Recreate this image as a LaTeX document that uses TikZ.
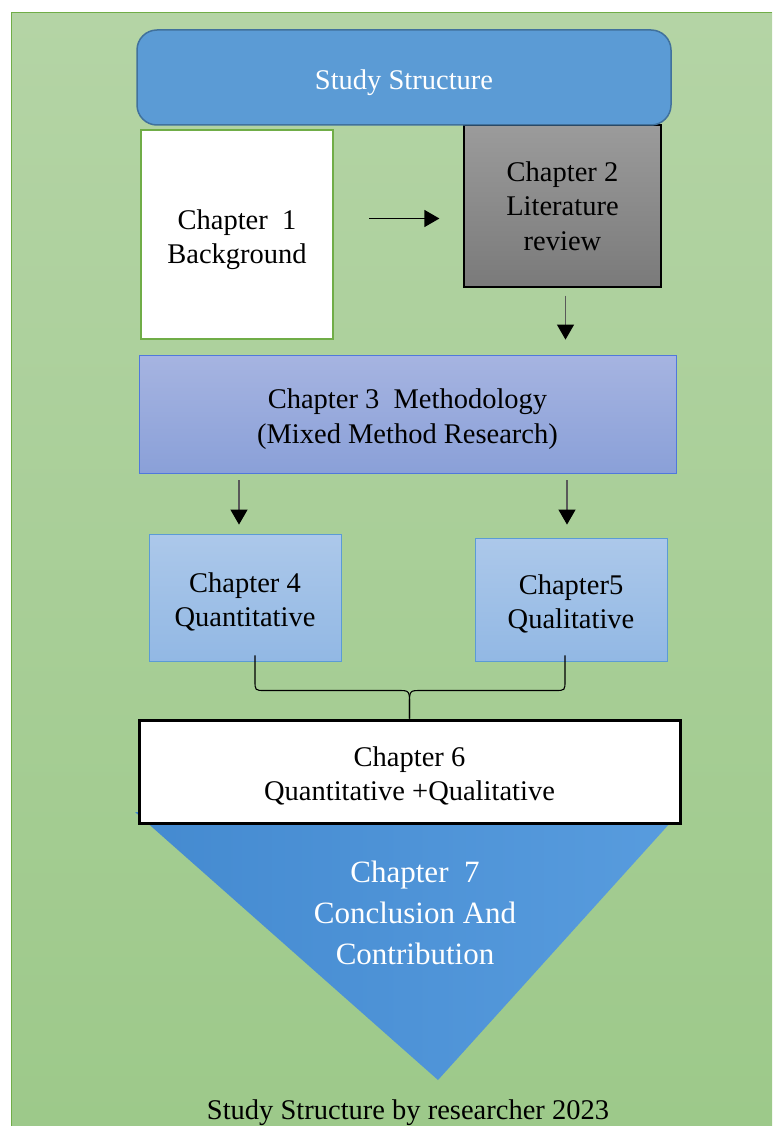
\documentclass[tikz,border=0pt]{standalone}
\usepackage{fontspec}
\setmainfont{Liberation Serif}
\usetikzlibrary{arrows.meta}
\usetikzlibrary{positioning}

\definecolor{bggreenT}{RGB}{180,212,165}
\definecolor{bggreenB}{RGB}{157,201,138}
\definecolor{bgline}{RGB}{112,173,71}
\definecolor{titleblue}{RGB}{91,155,213}
\definecolor{titleline}{RGB}{65,113,156}
\definecolor{greyT}{RGB}{155,155,155}
\definecolor{greyB}{RGB}{122,122,122}
\definecolor{lavT}{RGB}{166,180,225}
\definecolor{lavB}{RGB}{138,160,216}
\definecolor{lavline}{RGB}{80,120,220}
\definecolor{skyT}{RGB}{172,200,234}
\definecolor{skyB}{RGB}{146,184,228}
\definecolor{triL}{RGB}{68,138,208}
\definecolor{triR}{RGB}{88,156,222}

\newcommand{\chfont}{\fontsize{28.5}{34.5}\selectfont}
\newcommand{\bigchfont}{\fontsize{31}{41}\selectfont}

\tikzset{
  chapbox/.style={draw, align=center, font=\chfont, inner sep=0pt},
  oneline/.style={text height=30pt, text depth=6pt},
  twolines/.style={text height=64pt, text depth=6pt},
  arr/.style={-{Triangle[length=15pt,width=17pt,color=black]}, draw=black!65, line width=1.2pt},
  brace/.style={line width=1.1pt},
}

\begin{document}
\begin{tikzpicture}[x=1pt,y=-1pt]
      \useasboundingbox (0,0) rectangle (772,1126);
      % background panel
      \shade[top color=bggreenT, bottom color=bggreenB] (11,13) rectangle (772,1126);
      \draw[bgline, line width=1pt] (11,1126) -- (11,13) -- (772,13);

      % chapter 7 triangle behind chapter 6
      \shade[left color=triL, right color=triR] (135,812) -- (680,812) -- (438,1080) -- cycle;
      \node[font=\bigchfont, text=white, align=center] (ch7) at (415,913)
        {Chapter\ \ 7\\Conclusion And\\Contribution};

      \node[chapbox, top color=greyT, bottom color=greyB, line width=1.2pt,
        minimum width=197pt, minimum height=162pt] (ch2) at (562.5,206)
        {Chapter 2\\Literature\\review};
      \node[chapbox, oneline, draw=titleline, fill=titleblue, text=white, line width=1.5pt,
        rounded corners=20pt, minimum width=534pt, minimum height=95pt] (title) at (404,77.5)
        {Study Structure};
      \node[chapbox, twolines, draw=bgline, fill=white, line width=2pt,
        minimum width=192pt, minimum height=209pt] (ch1) at (237,234.5)
        {Chapter\ \ 1\\Background};
      \node[chapbox, twolines, draw=lavline, top color=lavT, bottom color=lavB, line width=0.8pt,
        minimum width=537pt, minimum height=118pt] (ch3) at (407.5,414)
        {Chapter 3\ \ Methodology\\(Mixed Method Research)};
      \node[chapbox, twolines, draw=titleblue, top color=skyT, bottom color=skyB, line width=0.8pt,
        minimum width=192pt, minimum height=127pt] (ch4) at (245,597.5)
        {Chapter 4\\Quantitative};
      \node[chapbox, twolines, draw=titleblue, top color=skyT, bottom color=skyB, line width=0.8pt,
        minimum width=192pt, minimum height=123pt] (ch5) at (571,599.5)
        {Chapter5\\Qualitative};
      \node[chapbox, twolines, fill=white, line width=3pt,
        minimum width=541pt, minimum height=103pt] (ch6) at (409.5,771.5)
        {Chapter 6\\Quantitative +Qualitative};

      \node[font=\chfont] (caption) at (408,1113) {Study Structure by researcher 2023};

      % arrows
      \draw[arr, draw=black, shorten <=35pt, shorten >=24pt]
        ([yshift=16pt]ch1.east) -- ([yshift=16pt]ch1.east -| ch2.west);
      \draw[arr, line width=1pt, shorten <=8pt, shorten >=15pt]
        ([xshift=3pt]ch2.south) -- ([xshift=3pt]ch2.south |- ch3.north);
      \draw[arr, shorten <=7pt, shorten >=9pt]
        ([xshift=-6pt]ch4.north |- ch3.south) -- ([xshift=-6pt]ch4.north);
      \draw[arr, shorten <=7pt, shorten >=13pt]
        ([xshift=-4pt]ch5.north |- ch3.south) -- ([xshift=-4pt]ch5.north);

      % brace joining chapter 4 and 5 into chapter 6
      \coordinate (bl) at ([xshift=10pt,yshift=6pt]ch4.south);
      \coordinate (br) at ([xshift=-6pt,yshift=6pt]ch5.south);
      \coordinate (bj) at ([yshift=28pt]ch6.north);
      \coordinate (bl2) at (bl |- bj);
      \coordinate (br2) at (br |- bj);
      \draw[brace] (bl) -- ([yshift=10pt]bl2) .. controls (bl2) .. ([xshift=10pt]bl2)
        -- ([xshift=-12pt]bj) .. controls (bj) .. ([yshift=-14pt]bj) -- (ch6.north);
      \draw[brace] (ch6.north) -- ([yshift=-14pt]bj) .. controls (bj) .. ([xshift=12pt]bj)
        -- ([xshift=-10pt]br2) .. controls (br2) .. ([yshift=10pt]br2) -- (br);
\end{tikzpicture}
\end{document}
